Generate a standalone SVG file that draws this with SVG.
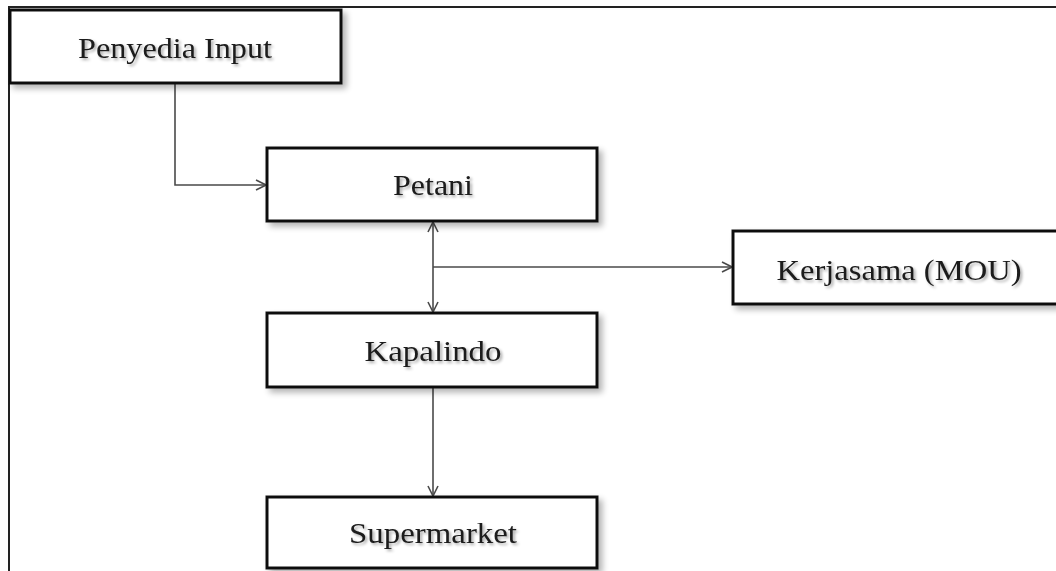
<svg xmlns="http://www.w3.org/2000/svg" width="1056" height="571" viewBox="0 0 1056 571">
<style>
.box{fill:#fff;stroke:#111;stroke-width:3;filter:url(#sh)}
.lbl{font-family:"Liberation Serif","Times New Roman",serif;font-size:30px;fill:#1a1a1a;text-anchor:middle;filter:url(#tsh)}
.con{fill:none;stroke:#4a4a4a;stroke-width:1.6}
.frame{fill:none;stroke:#222;stroke-width:2}
</style>
<defs>
<filter id="sh" x="-5%" y="-10%" width="115%" height="140%">
<feGaussianBlur in="SourceAlpha" stdDeviation="3"/>
<feOffset dx="4" dy="4" result="b"/>
<feComponentTransfer><feFuncA type="linear" slope="0.3"/></feComponentTransfer>
<feMerge><feMergeNode/><feMergeNode in="SourceGraphic"/></feMerge>
</filter>
<filter id="tsh" x="-10%" y="-30%" width="130%" height="170%">
<feGaussianBlur in="SourceAlpha" stdDeviation="1.5"/>
<feOffset dx="2" dy="2"/>
<feComponentTransfer><feFuncA type="linear" slope="0.35"/></feComponentTransfer>
<feMerge><feMergeNode/><feMergeNode in="SourceGraphic"/></feMerge>
</filter>
<marker id="arr" viewBox="0 0 12 12" refX="11" refY="6" markerWidth="12" markerHeight="12" markerUnits="userSpaceOnUse" orient="auto-start-reverse">
<path d="M1,1 L11,6 L1,11" fill="none" stroke="#4a4a4a" stroke-width="1.6"/>
</marker>
</defs>
<g id="frame">
<path class="frame" d="M9,571 V7 H1056"/>
</g>
<g id="connectors">
<path class="con" d="M175,83 V185 H266" marker-end="url(#arr)"/>
<path class="con" d="M433,222 V312" marker-start="url(#arr)" marker-end="url(#arr)"/>
<path class="con" d="M433,267 H732" marker-end="url(#arr)"/>
<path class="con" d="M433,388 V496" marker-end="url(#arr)"/>
</g>
<g id="penyedia-input">
<rect class="box" x="10" y="10" width="331" height="73"/>
<text class="lbl" x="175" y="58" textLength="194" lengthAdjust="spacingAndGlyphs">Penyedia Input</text>
</g>
<g id="petani">
<rect class="box" x="267" y="148" width="330" height="73"/>
<text class="lbl" x="433" y="195" textLength="80" lengthAdjust="spacingAndGlyphs">Petani</text>
</g>
<g id="kerjasama">
<rect class="box" x="733" y="231" width="340" height="73"/>
<text class="lbl" x="899" y="280" textLength="245" lengthAdjust="spacingAndGlyphs">Kerjasama (MOU)</text>
</g>
<g id="kapalindo">
<rect class="box" x="267" y="313" width="330" height="74"/>
<text class="lbl" x="433" y="361" textLength="137" lengthAdjust="spacingAndGlyphs">Kapalindo</text>
</g>
<g id="supermarket">
<rect class="box" x="267" y="497" width="330" height="71"/>
<text class="lbl" x="433" y="543" textLength="168" lengthAdjust="spacingAndGlyphs">Supermarket</text>
</g>
</svg>
